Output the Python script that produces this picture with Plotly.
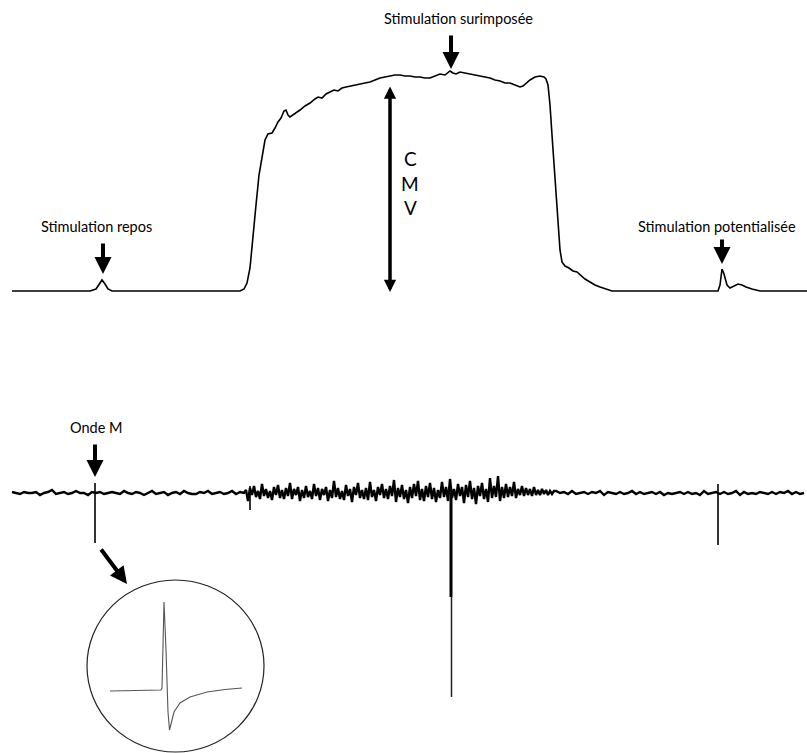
import numpy as np
import plotly.graph_objects as go

# ---------------- data (pixel-like units; y grows downward) ----------------
force_x = [12, 30, 50, 70, 90, 96, 100, 102, 105, 108, 112, 150, 200, 240, 244, 247, 250, 253, 256, 259,
           262, 265, 268, 272, 275, 278, 281, 284, 286, 288, 290, 293, 297, 300, 305, 310, 315, 318, 322,
           326, 330, 334, 338, 342, 346, 350, 355, 360, 365, 370, 375, 380, 385, 390, 395, 400, 405, 410,
           415, 420, 425, 430, 435, 440, 445, 450, 453, 456, 460, 465, 470, 475, 480, 485, 490, 495, 500,
           505, 510, 515, 520, 523, 527, 530, 535, 540, 544, 546, 548, 550, 552, 554, 556, 558, 560, 562,
           565, 569, 573, 577, 581, 585, 590, 595, 600, 605, 612, 650, 700, 718, 720, 722, 724, 727, 730,
           734, 738, 742, 746, 752, 760, 807]
force_y = [291, 291, 291.5, 291, 291, 289, 283, 280, 284, 289, 291, 291, 291, 291, 289, 283, 268, 240, 205, 175,
           155, 140, 134, 133, 128, 122, 118, 111, 110, 115, 117, 115, 112, 110, 106, 103, 99, 97, 98,
           94, 92, 90, 91, 88, 87, 86, 85, 84, 83, 82, 80, 78, 77, 76, 75, 75, 76, 76,
           77, 77, 78, 78, 76, 74, 75, 71, 73, 74, 72, 73, 74, 75, 76, 77, 78, 80, 81,
           83, 83, 85, 87, 86, 82, 80, 77, 76, 77, 79, 85, 105, 135, 165, 195, 225, 250, 262,
           266, 268, 271, 272, 276, 279, 282, 285, 287, 289, 291, 291, 291, 291, 285, 269, 274, 285, 288,
           286, 284, 285, 287, 289, 291, 291]

emg_baseline = 493
emg_quiet1 = [1, 0, -1, 1, 0, 0, 1, -2, 0, 1,
              3, -1, 0, 1, -1, 0, 2, 0, 0, -2,
              1, 0, 1, -1, 0, 1, 0, -1, 2, 0,
              -1, 1, 0, -2, 0, 2, -1, 0, 1, -2,
              0, 1, -1, 2, 0, -1, -1, 1, 0, 2,
              -1, 0, 1, -1, 0, 2, -1, 1, 0]
emg_burst = [3, -8, 5, -2, 7, -4, 2, -6, 9, -3,
             4, -5, 2, -7, 6, -2, 8, -5, 3, -6,
             5, -3, 10, -6, 4, -2, 6, -8, 3, -5,
             7, -4, 2, -6, 9, -3, 5, -7, 4, -2,
             6, -8, 3, -5, 12, -4, 5, -6, 2, -7,
             8, -3, 4, -9, 6, -2, 10, -5, 3, -6,
             5, -7, 11, -4, 3, -8, 6, -2, 9, -5,
             4, -6, 7, -3, 13, -9, 5, -4, 8, -6,
             3, -10, 6, -5, 9, -3, 12, -7, 4, -8,
             7, -4, 10, -6, 5, -9, 3, -5, 11, -4,
             6, -8, 14, -5, 4, -7, 9, -3, 6, -10,
             8, -4, 12, -6, 5, -11, 7, -3, 10, -6,
             4, -9, 15, -5, 7, -4, 17, -8, 6, -5,
             9, -4, 6, -3, 11, -5, 4, -2, 7, -3,
             5, -2, 4, -3, 6, -2, 3, -2, 4, -1,
             3, -2, 2, -1, 2]
emg_quiet2 = [2, 0, 1, -1, 2, -1, 0, 1, -1, 1,
              0, 2, -2, 1, 0, -1, 1, -1, 0, 2,
              -1, 1, -1, 0, 1, -1, 1, -2, 0, -1,
              0, 1, -1, 1, -1, 0, -2, 2, -1, 0,
              1, -1, 1, -1, 0, 2, -2, 1, -1, 0,
              -1, 1, 0, -1, 1, -1, 1, 0, 2, -1,
              1, -1, 0]

spike_x = [95, 250, 718]
spike_top = [483, 486, 484]
spike_bottom = [543, 510, 545]
big_spike_x = 451
big_spike_thick_end = 597
big_spike_bottom = 697

inset_x = [110, 130, 150, 161, 162, 164, 166, 168, 169.5, 171.5, 174, 180, 190, 207, 225, 242]
inset_y = [691, 690.5, 690, 690, 688, 602, 650, 712, 730, 722, 712, 703, 697, 692, 689.5, 688]

# ---------------- figure ----------------
fig = go.Figure()

fig.add_trace(go.Scatter(x=force_x, y=force_y, mode="lines",
                         line=dict(color="black", width=1.6), hoverinfo="skip"))

t1 = np.arange(12, 12 + 4 * len(emg_quiet1), 4)
t2 = np.arange(246, 246 + 2 * len(emg_burst), 2)
t3 = np.arange(556, 556 + 4 * len(emg_quiet2), 4)
emg_x = np.concatenate([t1, t2, t3])
emg_y = emg_baseline - np.array(emg_quiet1 + emg_burst + emg_quiet2, dtype=float)
fig.add_trace(go.Scatter(x=emg_x, y=emg_y, mode="lines",
                         line=dict(color="black", width=2.4), hoverinfo="skip"))

sx, sy = [], []
for x, a, b in zip(spike_x, spike_top, spike_bottom):
    sx += [x, x, None]
    sy += [a, b, None]
fig.add_trace(go.Scatter(x=sx, y=sy, mode="lines",
                         line=dict(color="black", width=1.6), hoverinfo="skip"))
fig.add_trace(go.Scatter(x=[big_spike_x, big_spike_x], y=[emg_baseline, big_spike_thick_end], mode="lines",
                         line=dict(color="black", width=3), hoverinfo="skip"))
fig.add_trace(go.Scatter(x=[big_spike_x + 0.5, big_spike_x + 0.5], y=[big_spike_thick_end, big_spike_bottom],
                         mode="lines", line=dict(color="#222", width=1.5), hoverinfo="skip"))

fig.add_trace(go.Scatter(x=inset_x, y=inset_y, mode="lines",
                         line=dict(color="#555", width=1.1), hoverinfo="skip"))

fig.add_shape(type="circle", xref="x", yref="y", x0=87, x1=264, y0=580, y1=752,
              line=dict(color="#222", width=1.2))

font = dict(family="Lato, sans-serif", size=14.5, color="black")
texts = [("Stimulation repos", 96, 226), ("Stimulation surimposée", 458, 18),
         ("Stimulation potentialisée", 717, 226), ("Onde M", 96, 427)]
for t, x, y in texts:
    fig.add_annotation(x=x, y=y, text=t, showarrow=False, font=font, xanchor="center", yanchor="middle")
for t, y in [("C", 158), ("M", 183), ("V", 207)]:
    fig.add_annotation(x=410, y=y, text=t, showarrow=False,
                       font=dict(family="Lato, sans-serif", size=19, color="black"))

arrows = [(103, 242, 103, 274), (451, 34, 451, 69), (722, 238, 722, 264), (95, 443, 95, 477),
          (100, 548, 127, 584)]
for ax, ay, x, y in arrows:
    fig.add_annotation(x=x, y=y, ax=ax, ay=ay, xref="x", yref="y", axref="x", ayref="y",
                       text="", showarrow=True, arrowhead=2, arrowsize=0.85, arrowwidth=4,
                       arrowcolor="black", standoff=0, startstandoff=0)
fig.add_annotation(x=390, y=292, ax=390, ay=85, xref="x", yref="y", axref="x", ayref="y",
                   text="", showarrow=True, arrowhead=2, startarrowhead=2, arrowside="end+start",
                   arrowsize=0.7, startarrowsize=0.7, arrowwidth=3.5, arrowcolor="black",
                   standoff=0, startstandoff=0)

fig.update_layout(width=807, height=753, margin=dict(l=0, r=0, t=0, b=0),
                  paper_bgcolor="white", plot_bgcolor="white", showlegend=False,
                  xaxis=dict(range=[0, 807], visible=False, fixedrange=True),
                  yaxis=dict(range=[753, 0], visible=False, fixedrange=True))

fig.write_html("out.html", config={"displayModeBar": False},
               post_script="document.body.style.margin='0';document.body.style.overflow='hidden';")
